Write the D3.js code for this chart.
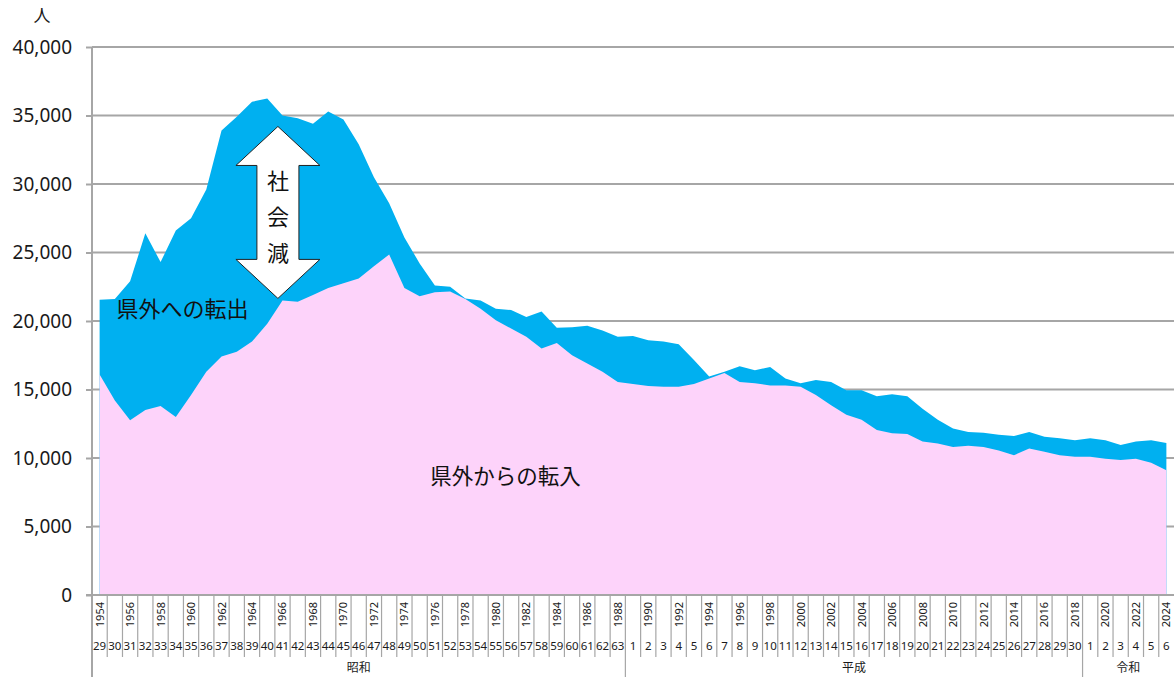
<!DOCTYPE html>
<html>
<head>
<meta charset="utf-8">
<script src="https://cdn.jsdelivr.net/npm/d3@7"></script>
<style>
  body { margin: 0; background: #fff; }
  svg { display: block; font-family: "Noto Sans", "Noto Sans CJK JP", sans-serif; }
</style>
</head>
<body>
<div id="chart"></div>
<script>
(function(){
  'use strict';

  // years 1954 - 2024
  var years = d3.range(1954, 2025);

  // 県外への転出 (out of prefecture)
  var outValues = [
    21550, 21600, 22900, 26400, 24300, 26600, 27500, 29600, 33900, 34900,
    36000, 36250, 35000, 34800, 34400, 35300, 34700, 32900, 30500, 28600,
    26100, 24200, 22600, 22500, 21650, 21500, 20900, 20800, 20300, 20700,
    19500, 19550, 19650, 19300, 18850, 18900, 18600, 18500, 18300, 17150,
    15950, 16300, 16700, 16400, 16650, 15800, 15450, 15700, 15550, 14950,
    14950, 14500, 14650, 14500, 13600, 12800, 12150, 11900, 11850, 11700,
    11600, 11900, 11550, 11450, 11300, 11450, 11300, 10950, 11200, 11300,
    11100
  ];

  // 県外からの転入 (into prefecture)
  var inValues = [
    16100, 14200, 12750, 13500, 13800, 13000, 14600, 16300, 17400, 17750,
    18500, 19800, 21500, 21400, 21900, 22400, 22750, 23100, 24000, 24850,
    22400, 21800, 22100, 22150, 21600, 20900, 20050, 19450, 18850, 18000,
    18400, 17500, 16900, 16300, 15550, 15400, 15250, 15200, 15200, 15400,
    15800, 16200, 15550, 15450, 15300, 15300, 15200, 14600, 13850, 13150,
    12800, 12050, 11800, 11750, 11200, 11050, 10800, 10900, 10800, 10550,
    10200, 10700, 10450, 10200, 10100, 10100, 9950, 9850, 9950, 9650,
    9100
  ];

  var yTicks = [0, 5000, 10000, 15000, 20000, 25000, 30000, 35000, 40000];

  // eras: name, first western year, first era year
  var eras = [
    { name: '昭和', start: 1954, end: 1988, first: 29 },
    { name: '平成', start: 1989, end: 2018, first: 1 },
    { name: '令和', start: 2019, end: 2024, first: 1 }
  ];

  var width = 1174, height = 677;
  var left = 92, right = 1174, top = 47, bottom = 595;
  var gridColor = '#a6a6a6';

  var svg = d3.select('#chart').append('svg')
    .attr('width', width)
    .attr('height', height);

  var x = d3.scaleBand().domain(years).range([left, right]).padding(0);
  var bw = x.bandwidth();
  var xc = function(yr) { return x(yr) + bw / 2; };
  // position for fractional years (annotations)
  var xAt = function(yr) { return x(years[0]) + bw / 2 + (yr - years[0]) * bw; };

  var y = d3.scaleLinear().domain([0, 40000]).range([bottom, top]);

  // gridlines
  svg.append('g')
    .selectAll('line')
    .data(yTicks.filter(function(d) { return d > 0; }))
    .enter().append('line')
    .attr('x1', left).attr('x2', right)
    .attr('y1', function(d) { return y(d); })
    .attr('y2', function(d) { return y(d); })
    .attr('stroke', gridColor)
    .attr('stroke-width', 2);

  var outData = years.map(function(yr, i) { return { year: yr, v: outValues[i] }; });
  var inData = years.map(function(yr, i) { return { year: yr, v: inValues[i] }; });

  var area = d3.area()
    .x(function(d) { return xc(d.year); })
    .y0(y(0))
    .y1(function(d) { return y(d.v); });

  svg.append('path').datum(outData)
    .attr('d', area)
    .attr('fill', '#00b0f0');

  svg.append('path').datum(inData)
    .attr('d', area)
    .attr('fill', '#fdd3fa');

  // y axis
  var yAxis = d3.axisLeft(y)
    .tickValues(yTicks)
    .tickSize(6)
    .tickPadding(14)
    .tickFormat(d3.format(','));

  var gy = svg.append('g')
    .attr('transform', 'translate(' + left + ',0)')
    .call(yAxis);
  gy.select('.domain').remove();
  gy.selectAll('.tick line').attr('stroke', gridColor).attr('stroke-width', 2);
  gy.selectAll('.tick text')
    .attr('fill', '#1a1a1a')
    .style('font-size', '19px')
    .style('font-family', '"Noto Sans", sans-serif');

  svg.append('text')
    .attr('x', 42).attr('y', 22)
    .attr('text-anchor', 'middle')
    .style('font-size', '17px')
    .style('font-family', '"Noto Sans CJK JP", sans-serif')
    .attr('fill', '#1a1a1a')
    .text('人');

  // left axis line (runs through category labels)
  svg.append('line')
    .attr('x1', left).attr('x2', left)
    .attr('y1', top).attr('y2', height)
    .attr('stroke', gridColor).attr('stroke-width', 2);

  // baseline
  svg.append('line')
    .attr('x1', left - 6).attr('x2', right)
    .attr('y1', bottom).attr('y2', bottom)
    .attr('stroke', gridColor).attr('stroke-width', 2);

  // category separators
  var gx = svg.append('g');
  gx.selectAll('line.sep')
    .data(years.slice(1))
    .enter().append('line')
    .attr('class', 'sep')
    .attr('x1', function(d) { return x(d); })
    .attr('x2', function(d) { return x(d); })
    .attr('y1', bottom)
    .attr('y2', 657)
    .attr('stroke', gridColor)
    .attr('stroke-width', 1.2);

  gx.selectAll('line.era')
    .data(eras.slice(1))
    .enter().append('line')
    .attr('x1', function(d) { return x(d.start); })
    .attr('x2', function(d) { return x(d.start); })
    .attr('y1', 657)
    .attr('y2', height)
    .attr('stroke', gridColor)
    .attr('stroke-width', 1.2);

  // western year labels, every other year
  gx.selectAll('text.yr')
    .data(years.filter(function(d) { return (d - years[0]) % 2 === 0; }))
    .enter().append('text')
    .attr('class', 'yr')
    .attr('transform', function(d) { return 'translate(' + (xc(d) + 4) + ',602) rotate(-90)'; })
    .attr('text-anchor', 'end')
    .style('font-size', '11px')
    .attr('fill', '#1a1a1a')
    .text(function(d) { return d; });

  // era year labels
  var eraYear = function(yr) {
    for (var i = eras.length - 1; i >= 0; i--) {
      if (yr >= eras[i].start) return yr - eras[i].start + eras[i].first;
    }
  };
  gx.selectAll('text.ey')
    .data(years)
    .enter().append('text')
    .attr('class', 'ey')
    .attr('x', function(d) { return xc(d); })
    .attr('y', 650)
    .attr('text-anchor', 'middle')
    .style('font-size', '11.5px')
    .attr('fill', '#1a1a1a')
    .text(function(d) { return eraYear(d); });

  // era names
  gx.selectAll('text.en')
    .data(eras)
    .enter().append('text')
    .attr('x', function(d) { return (x(d.start) + x(d.end) + bw) / 2; })
    .attr('y', 672)
    .attr('text-anchor', 'middle')
    .style('font-size', '12px')
    .style('font-family', '"Noto Sans CJK JP", sans-serif')
    .attr('fill', '#1a1a1a')
    .text(function(d) { return d.name; });

  // series labels
  svg.append('text')
    .attr('x', xAt(1955.1)).attr('y', 317)
    .style('font-size', '22px')
    .style('font-family', '"Noto Sans CJK JP", sans-serif')
    .attr('fill', '#111')
    .text('県外への転出');

  svg.append('text')
    .attr('x', xAt(1975.7)).attr('y', 484)
    .style('font-size', '21.5px')
    .style('font-family', '"Noto Sans CJK JP", sans-serif')
    .attr('fill', '#111')
    .text('県外からの転入');

  // 社会減 double arrow
  var cx = xAt(1965.7);
  var yTop = y(34200), yBot = y(21650);
  var headW = 42, shaftW = 21, headL = 39;
  var arrowPts = [
    [cx, yTop], [cx + headW, yTop + headL], [cx + shaftW, yTop + headL],
    [cx + shaftW, yBot - headL], [cx + headW, yBot - headL], [cx, yBot],
    [cx - headW, yBot - headL], [cx - shaftW, yBot - headL],
    [cx - shaftW, yTop + headL], [cx - headW, yTop + headL]
  ];
  svg.append('path')
    .attr('d', d3.line()(arrowPts) + 'Z')
    .attr('fill', '#fff')
    .attr('stroke', '#222')
    .attr('stroke-width', 1);

  svg.append('g').selectAll('text')
    .data(['社', '会', '減'])
    .enter().append('text')
    .attr('x', cx)
    .attr('y', function(d, i) { return 189 + i * 36; })
    .attr('text-anchor', 'middle')
    .style('font-size', '22px')
    .style('font-family', '"Noto Sans CJK JP", sans-serif')
    .attr('fill', '#111')
    .text(function(d) { return d; });

})();
</script>
</body>
</html>
